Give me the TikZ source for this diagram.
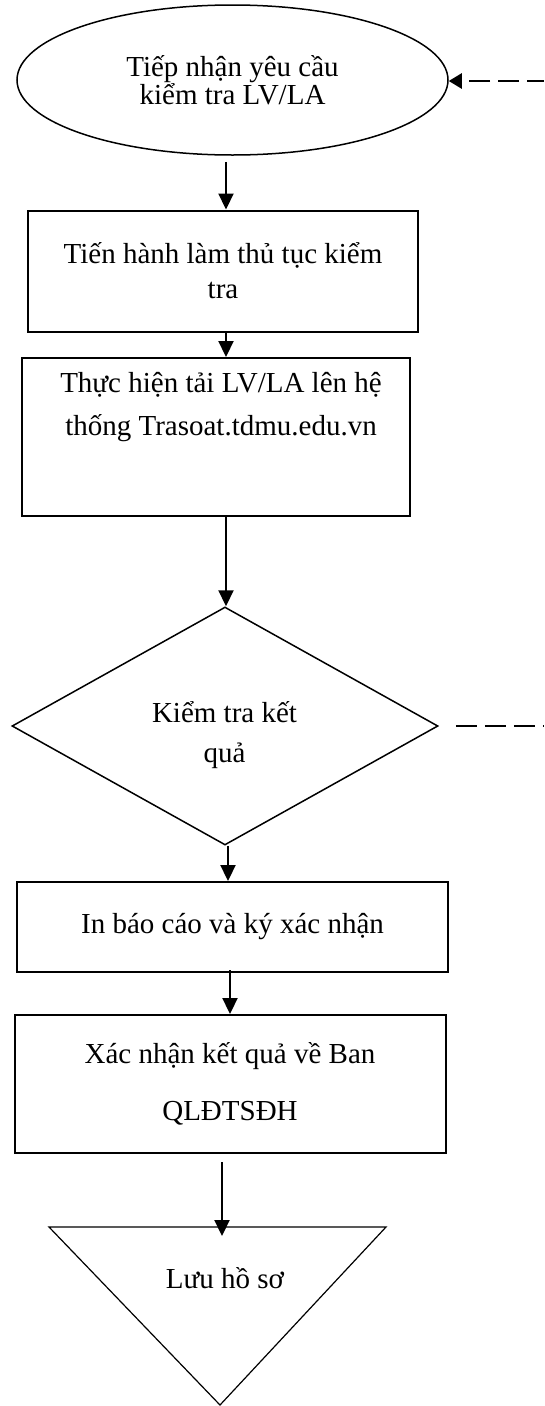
\documentclass[tikz,border=0pt]{standalone}
\usepackage{fontspec}
\setmainfont{Liberation Serif}
\usetikzlibrary{shapes.geometric,arrows.meta,calc}
\newcommand{\lines}[1]{\begin{tabular}[t]{@{}c@{}}#1\end{tabular}}
\begin{document}
\begin{tikzpicture}[x=1pt,y=-1pt,
  box/.style={draw,line width=2pt,inner sep=0pt,align=center},
  shp/.style={draw,line width=1.5pt,inner sep=0pt,align=center},
  txt/.style={inner sep=0pt,anchor=base},
  arr/.style={line width=2.2pt,-{Triangle[width=15pt,length=16pt]}},
  dashline/.style={line width=2.4pt,dash pattern=on 21pt off 8pt}]
\useasboundingbox (0,0) rectangle (544,1406);

% x positions of the vertical connectors
\coordinate (xa) at (226,0);
\coordinate (xb) at (228,0);
\coordinate (xc) at (230,0);
\coordinate (xd) at (222,0);

\node[ellipse,shp,minimum width=431pt,minimum height=150pt,
  font=\fontsize{29}{27}\selectfont] (e) at (232.5,80)
  {Tiếp nhận yêu cầu\\kiểm tra LV/LA};

\node[box,minimum width=389.5pt,minimum height=121pt,
  font=\fontsize{29}{35}\selectfont] (b1) at (223,271)
  {Tiến hành làm thủ tục kiểm\\tra};

\node[box,minimum width=387.5pt,minimum height=158pt] (b2) at (216,437) {};
\node[txt,font=\fontsize{29}{43}\selectfont] (b2t) at (221,392)
  {\lines{Thực hiện tải LV/LA lên hệ\\thống Trasoat.tdmu.edu.vn}};

\node[diamond,shp,minimum width=426pt,minimum height=238pt] (d) at (225,726) {};
\node[txt,font=\fontsize{29}{40}\selectfont] (dt) at (224.5,722)
  {\lines{Kiểm tra kết\\quả}};

\node[box,minimum width=431pt,minimum height=90pt,
  font=\fontsize{29}{35}\selectfont] (b3) at (232.5,927)
  {In báo cáo và ký xác nhận};

\node[box,minimum width=431pt,minimum height=138pt,
  font=\fontsize{29}{57}\selectfont] (b4) at (230,1084)
  {Xác nhận kết quả về Ban\\QLĐTSĐH};

\draw[line width=1.2pt] (49,1227) -- (386,1227) -- (220,1405) -- cycle;
\coordinate (tri) at (222,1236);
\node[txt,font=\fontsize{29}{35}\selectfont] (tt) at (225,1288) {Lưu hồ sơ};

% vertical connectors
\draw[arr] ($(e.south -| xa)+(0,6)$) -- (b1.north -| xa);
\draw[arr] (b1.south -| xa) -- (b2.north -| xa);
\draw[arr] (b2.south -| xa) -- (d.north -| xa);
\draw[arr] (d.south -| xb) -- (b3.north -| xb);
\draw[arr] ($(b3.south -| xc)+(0,-3)$) -- (b4.north -| xc);
\draw[arr] ($(b4.south -| xd)+(0,8)$) -- (tri);

% dashed feedback stubs
\coordinate (r1) at (544,81);
\coordinate (r2) at (544,726);
\draw[dashline,dash phase=4pt,-{Triangle[width=15pt,length=13pt]}] (r1) -- (r1 -| e.east);
\draw[dashline] ($(d.east)+(17,0)$) -- (r2);
\end{tikzpicture}
\end{document}
